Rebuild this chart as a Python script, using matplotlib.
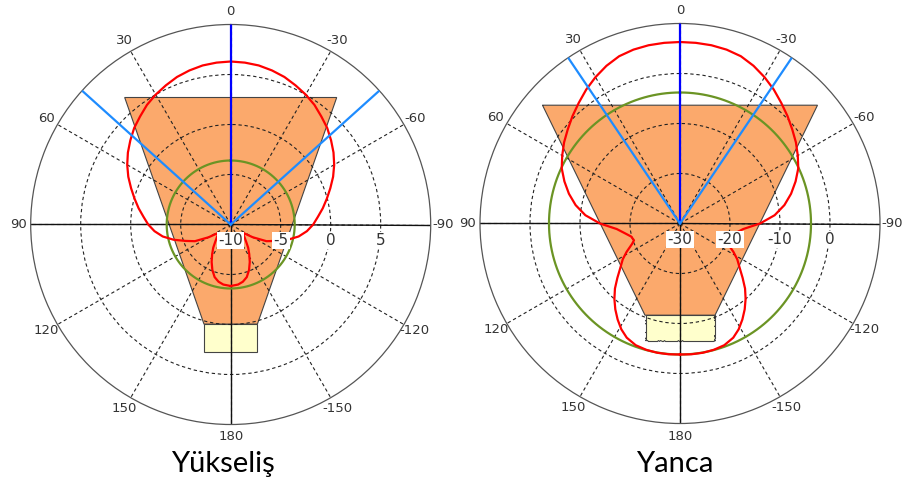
import numpy as np
import matplotlib
matplotlib.use("Agg")
import matplotlib.pyplot as plt
from matplotlib.transforms import offset_copy

# ---------------- data ----------------
# Elevation (Yükseliş) pattern, dB, angle in degrees (0 = boresight, +ccw)
elev_angles = [-180, -173, -168, -163, -158, -153, -148, -143, -138, -133, -128, -124,
               -120, -115, -110, -105, -100, -95, -90, -85, -80, -75, -70, -65, -60,
               -55, -50, -45, -40, -35, -30, -25, -20, -15, -10, -5,
               0, 5, 10, 15, 20, 25, 30, 35, 40, 45, 50, 55, 60, 65, 70, 75, 80, 85,
               90, 95, 100, 105, 110, 115, 120, 124, 128, 133, 138, 143, 148, 153,
               158, 163, 168, 173, 180]
elev_db = [-3.85, -3.95, -4.15, -4.5, -5.1, -5.8, -6.5, -7.1, -7.7, -8.1, -8.4, -8.5,
           -7.45, -6.05, -5.2, -4.1, -3.1, -2.35, -1.75, -1.25, -0.65, -0.05, 0.6, 1.3, 1.95,
           2.55, 3.1, 3.65, 4.1, 4.6, 5.0, 5.35, 5.7, 5.95, 6.15, 6.25,
           6.3, 6.25, 6.15, 5.95, 5.7, 5.35, 5.0, 4.6, 4.1, 3.65, 3.1, 2.55, 1.95, 1.3, 0.6,
           -0.05, -0.65, -1.25, -1.75, -2.35, -3.1, -4.1, -5.2, -6.05, -7.45, -8.5, -8.4,
           -8.1, -7.7, -7.1, -6.5, -5.8, -5.1, -4.5, -4.15, -3.95, -3.85]

# Azimuth (Yanca) pattern, dB
azim_angles = [-180, -175, -170, -165, -160, -155, -151, -147, -143, -139, -135, -131,
               -127, -122, -118, -113, -110, -105, -100, -95, -90, -85, -80, -75, -70,
               -65, -60, -55, -50, -45, -40, -35, -30, -25, -20, -15, -10, -5,
               0, 5, 10, 15, 20, 25, 30, 35, 40, 45, 50, 55, 60, 65, 70, 75, 80, 85, 90,
               95, 100, 105, 110, 113, 118, 122, 127, 131, 135, 139, 143, 147, 151, 155,
               160, 165, 170, 175, 180]
azim_db = [-3.8, -3.75, -3.75, -3.85, -4.1, -4.8, -5.8, -7.1, -8.5, -10.0, -11.6, -13.4,
           -15.0, -16.5, -17.9, -19.6, -20.2, -19.9, -18.8, -17.3, -14.0, -11.0, -8.8, -7.0,
           -5.4, -3.9, -2.8, -1.7, -0.7, 0.4, 1.5, 2.7, 3.8, 4.8, 5.6, 6.0, 6.2, 6.27,
           6.3, 6.27, 6.2, 6.0, 5.6, 4.8, 3.8, 2.7, 1.5, 0.4, -0.7, -1.7, -2.8, -3.9, -5.4,
           -7.0, -8.8, -11.0, -14.0, -17.3, -18.8, -19.9, -20.2, -19.6, -17.9, -16.5, -15.0,
           -13.4, -11.6, -10.0, -8.5, -7.1, -5.8, -4.8, -4.1, -3.85, -3.75, -3.75, -3.8]

titles = ["Yükseliş", "Yanca"]
r_limits = [(-10, 10), (-30, 10)]
r_grid = [[-5, 0, 5], [-20, -10, 0]]
r_labels = [[-10, -5, 0, 5], [-30, -20, -10, 0]]
beam_half_angle = [48, 34]          # -3 dB beamwidth markers (deg)
green_level = [-3.6, -3.8]          # back-lobe level circle (dB)
theta_ticks = [0, 30, 60, 90, 120, 150, 180, 210, 240, 270, 300, 330]
theta_ticklabels = ["0", "30", "60", "90", "120", "150", "180",
                    "-150", "-120", "-90", "-60", "-30"]
# horn drawing outline, in radial-scale units from the centre (x right, y up)
horn_outline = [
    [(-10.6, 12.7), (10.6, 12.7), (2.67, -9.96), (-2.67, -9.96)],
    [(-27.5, 23.66), (27.5, 23.66), (7.0, -18.34), (-7.0, -18.34)],
]
feed_outline = [
    [(-2.65, -9.96), (2.65, -9.96), (2.65, -12.76), (-2.65, -12.76)],
    [(-6.9, -18.34), (6.9, -18.34), (6.9, -23.4), (-6.9, -23.4)],
]
patterns = [(elev_angles, elev_db), (azim_angles, azim_db)]

# ---------------- style ----------------
RED = "#ff0000"
GREEN = "#6b9424"
BLUE_DARK = "#0000ff"
BLUE_LIGHT = "#1e8cff"
ORANGE = "#fba96c"
YELLOW = "#ffffcc"
EDGE = "#444444"

fig = plt.figure(figsize=(9.09, 4.86), dpi=100)
fig.patch.set_facecolor("white")

axes_rects = [
    [30.7 / 909, (486 - 424.5) / 486, 400 / 909, 400 / 486],
    [480 / 909, (486 - 423.5) / 486, 400 / 909, 400 / 486],
]
title_pos = [(223 / 909, 1 - 471.7 / 486), (675 / 909, 1 - 471.7 / 486)]


def outline_to_polar(pts, rmin, n=60):
    pts = list(pts) + [pts[0]]
    xs, ys = [], []
    for (x0, y0), (x1, y1) in zip(pts[:-1], pts[1:]):
        t = np.linspace(0, 1, n, endpoint=False)
        xs.append(x0 + (x1 - x0) * t)
        ys.append(y0 + (y1 - y0) * t)
    xs = np.concatenate(xs + [[pts[-1][0]]])
    ys = np.concatenate(ys + [[pts[-1][1]]])
    th = np.unwrap(np.arctan2(-xs, ys))
    rr = rmin + np.hypot(xs, ys)
    return th, rr


for i in range(2):
    ax = fig.add_axes(axes_rects[i], projection="polar")
    rmin, rmax = r_limits[i]
    ax.set_theta_zero_location("N")
    ax.set_theta_direction(1)
    ax.set_rlim(rmin, rmax)

    ax.set_thetagrids(theta_ticks, theta_ticklabels)
    ax.set_rgrids(r_grid[i], labels=[""] * len(r_grid[i]))
    ax.grid(True, linestyle=(0, (3, 2.5)), color="#222222", linewidth=0.8)
    ax.tick_params(axis="x", pad=-1.5, labelsize=9.5, labelcolor="#333333")
    ax.spines["polar"].set_color("#555555")
    ax.spines["polar"].set_linewidth(0.9)

    # horn + feed
    th, rr = outline_to_polar(horn_outline[i], rmin)
    ax.fill(th, rr, facecolor=ORANGE, edgecolor=EDGE, linewidth=0.8, zorder=1)
    th, rr = outline_to_polar(feed_outline[i], rmin)
    ax.fill(th, rr, facecolor=YELLOW, edgecolor=EDGE, linewidth=0.8, zorder=1)

    # solid axis lines
    for a in (90, 180, 270):
        ax.plot(np.deg2rad([a, a]), [rmin, rmax], color="#111111", lw=1.0, zorder=2)

    # green circle
    tg = np.deg2rad(np.arange(0, 361, 1))
    ax.plot(tg, np.full(tg.shape, green_level[i]), color=GREEN, lw=1.6, zorder=3)

    # red pattern
    ang, db = patterns[i]
    ax.plot(np.deg2rad(ang), db, color=RED, lw=1.6, zorder=4)

    # blue lines
    ax.plot([0, 0], [rmin, rmax], color=BLUE_DARK, lw=1.6, zorder=5)
    for s in (-1, 1):
        b = np.deg2rad(s * beam_half_angle[i])
        ax.plot([b, b], [rmin, rmax], color=BLUE_LIGHT, lw=1.6, zorder=5)

    # radial labels
    tr = offset_copy(ax.transData, fig=fig, x=0, y=-16, units="dots")
    for v in r_labels[i]:
        ax.text(np.deg2rad(-90), v, str(v), transform=tr, ha="center", va="center",
                fontsize=11, color="#333333", zorder=6,
                bbox=dict(facecolor="white", edgecolor="none", pad=1.0))

    fig.text(title_pos[i][0], title_pos[i][1], titles[i], ha="center", va="baseline",
             fontsize=21, family="Lato", color="black")

fig.savefig("out.png", dpi=100)
